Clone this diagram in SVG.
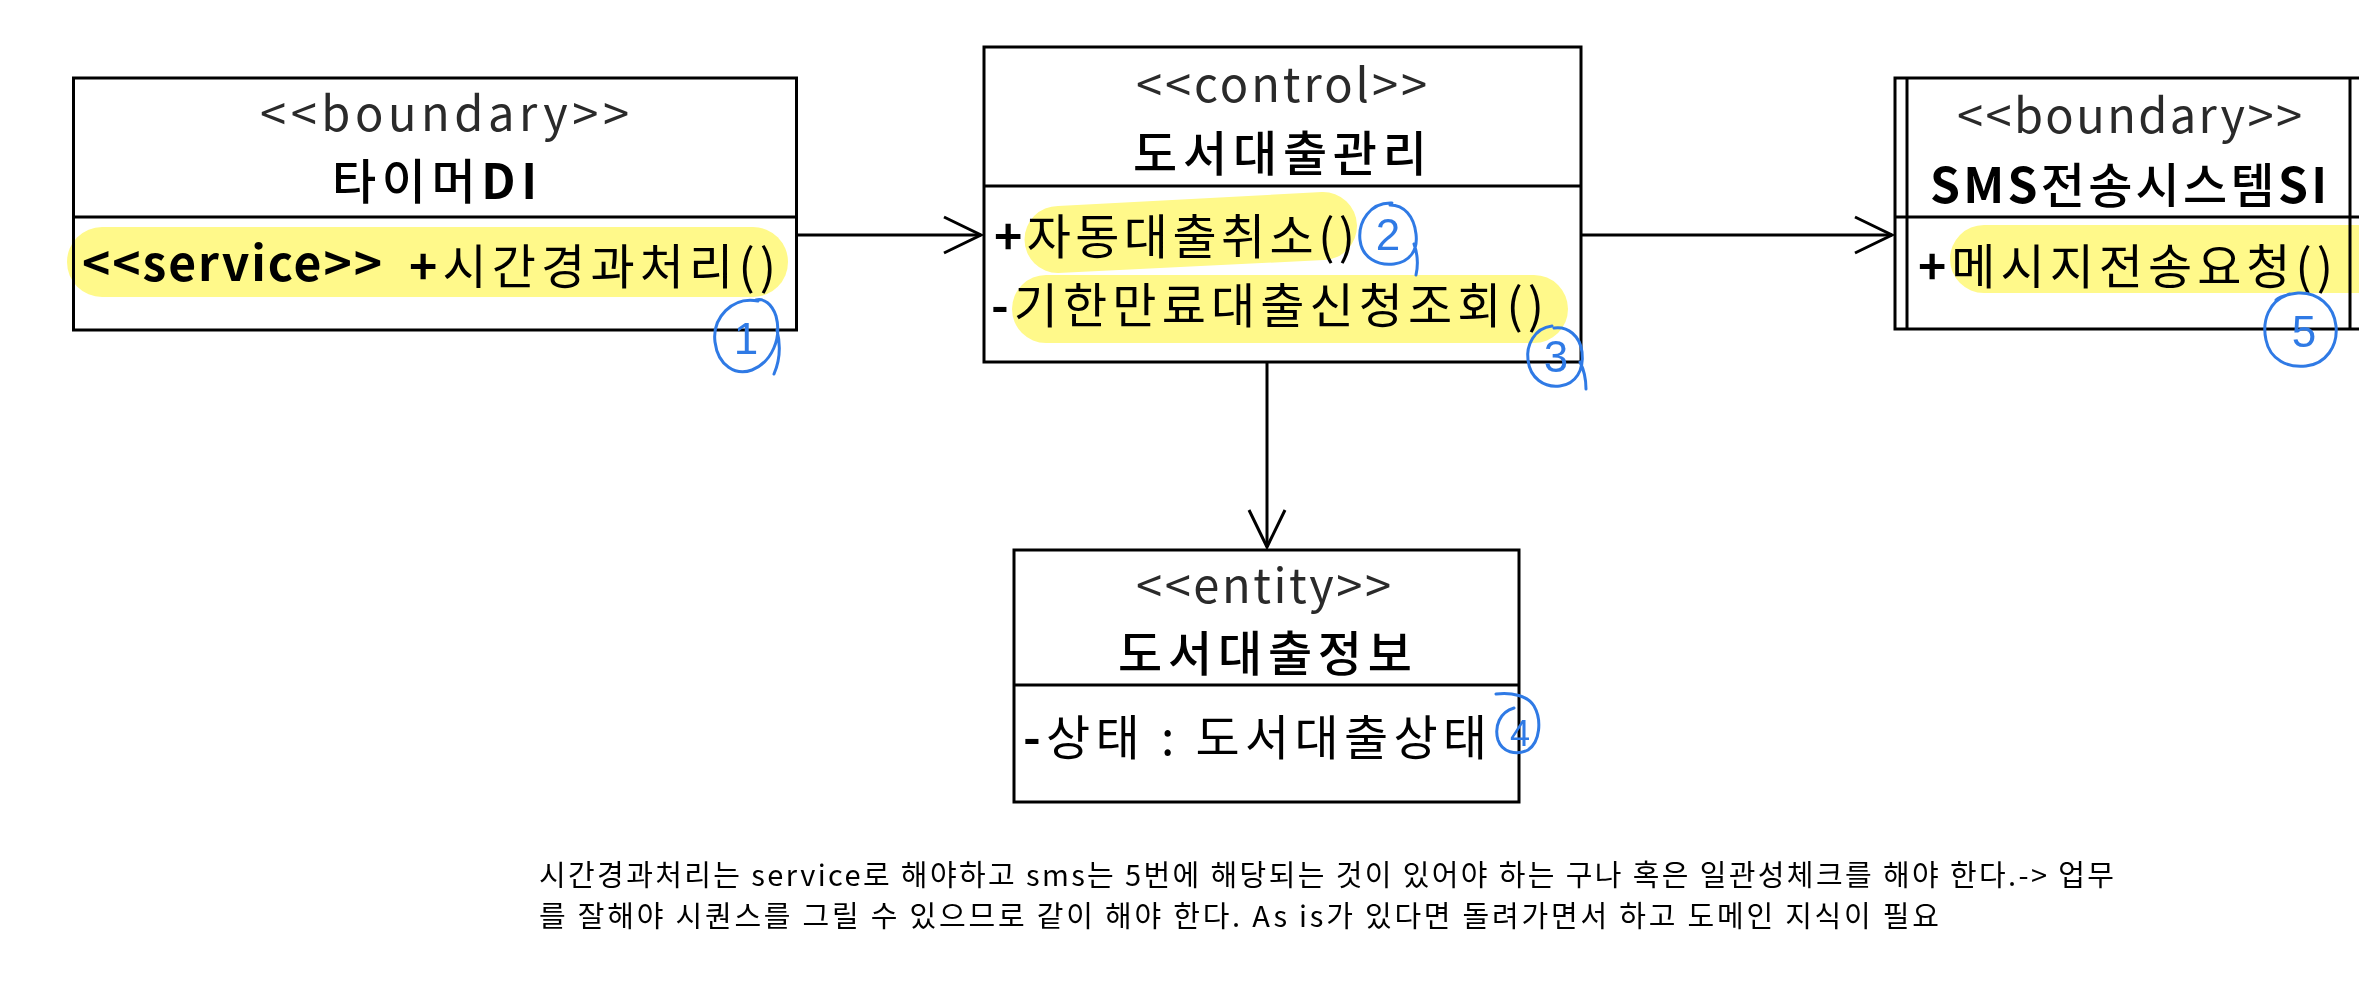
<svg xmlns="http://www.w3.org/2000/svg" width="2359" height="1000" viewBox="0 0 2359 1000">
<style>
text{font-family:"Noto Sans CJK KR","Noto Sans",sans-serif}
.box{fill:#fff;stroke:#000;stroke-width:3}
.ln{stroke:#000;stroke-width:3;fill:none}
.st{font-size:47px;fill:#2a2a2a}
.ti{font-size:48px;fill:#000;font-weight:500}
.mb{font-size:48px;fill:#000}
.b{font-weight:700}
.hl{fill:#fff98a;mix-blend-mode:multiply}
.pen{fill:none;stroke:#2f7ae5;stroke-width:3;stroke-linecap:round;stroke-linejoin:round}
.pn{font-family:"Liberation Sans",sans-serif;font-size:44px;fill:#2f7ae5;text-anchor:middle}
.note{font-size:29px;fill:#000}
</style>
<defs>
<marker id="open" markerUnits="userSpaceOnUse" markerWidth="46" markerHeight="46" viewBox="-42 -23 46 46" refX="0" refY="0" orient="auto">
<path d="M-37,-18 L0,0 L-37,18" fill="none" stroke="#000" stroke-width="3"/>
</marker>
</defs>

<g id="connectors">
<line class="ln" x1="796" y1="235" x2="981" y2="235" marker-end="url(#open)"/>
<line class="ln" x1="1581" y1="235" x2="1892" y2="235" marker-end="url(#open)"/>
<line class="ln" x1="1267" y1="362" x2="1267" y2="547" marker-end="url(#open)"/>
</g>

<g id="node-timer">
<rect class="box" x="73.5" y="78" width="723" height="252"/>
<line class="ln" x1="73.5" y1="217" x2="796.5" y2="217"/>
<text class="st" x="260" y="131" textLength="369" lengthAdjust="spacing">&lt;&lt;boundary&gt;&gt;</text>
<text class="ti" x="332" y="199" textLength="205" lengthAdjust="spacing">타이머<tspan class="b">DI</tspan></text>
<text class="mb b" x="82" y="281" textLength="300" lengthAdjust="spacing">&lt;&lt;service&gt;&gt;</text>
<text class="mb" x="409" y="284" textLength="367" lengthAdjust="spacing"><tspan class="b">+</tspan>시간경과처리()</text>
</g>

<g id="node-control">
<rect class="box" x="984" y="47" width="597" height="315"/>
<line class="ln" x1="984" y1="186" x2="1581" y2="186"/>
<text class="st" x="1136" y="102" textLength="291" lengthAdjust="spacing">&lt;&lt;control&gt;&gt;</text>
<text class="ti" x="1133" y="171" textLength="294" lengthAdjust="spacing">도서대출관리</text>
<text class="mb" x="994" y="254" textLength="361" lengthAdjust="spacing"><tspan class="b">+</tspan>자동대출취소()</text>
<text class="mb" x="991" y="323" textLength="553" lengthAdjust="spacing"><tspan class="b">-</tspan>기한만료대출신청조회()</text>
</g>

<g id="node-sms">
<rect class="box" x="1895" y="78" width="480" height="251"/>
<line class="ln" x1="1907" y1="78" x2="1907" y2="329"/>
<line class="ln" x1="2350" y1="78" x2="2350" y2="329"/>
<line class="ln" x1="1895" y1="217" x2="2359" y2="217"/>
<text class="st" x="1957" y="133" textLength="345" lengthAdjust="spacing">&lt;&lt;boundary&gt;&gt;</text>
<text class="ti" x="1930" y="203" textLength="397" lengthAdjust="spacing"><tspan class="b">SMS</tspan>전송시스템<tspan class="b">SI</tspan></text>
<text class="mb" x="1918" y="284" textLength="415" lengthAdjust="spacing"><tspan class="b">+</tspan>메시지전송요청()</text>
</g>

<g id="node-entity">
<rect class="box" x="1014" y="550" width="505" height="252"/>
<line class="ln" x1="1014" y1="685" x2="1519" y2="685"/>
<text class="st" x="1136" y="603" textLength="255" lengthAdjust="spacing">&lt;&lt;entity&gt;&gt;</text>
<text class="ti" x="1118" y="671" textLength="294" lengthAdjust="spacing">도서대출정보</text>
<text class="mb" x="1023" y="755" textLength="464" lengthAdjust="spacing"><tspan class="b">-</tspan>상태 : 도서대출상태</text>
</g>

<g id="highlights">
<rect class="hl" x="67" y="227" width="721" height="70" rx="35"/>
<path class="hl" d="M1058,206 L1322,192 A34,34 0 0 1 1324,260 L1058,273 A33.5,33.5 0 0 1 1058,206 Z"/>
<rect class="hl" x="1012" y="275" width="556" height="68" rx="34"/>
<rect class="hl" x="1950" y="225" width="450" height="68" rx="34"/>
</g>

<g id="annotations">
<path class="pen" d="M758,301 C732,296 712,318 715,342 C718,366 736,376 752,370 C772,362 782,338 776,316 C772,304 764,298 756,300 M777,330 C781,346 780,360 774,374"/>
<text class="pn" x="746" y="354">1</text>
<path class="pen" d="M1392,203 C1370,202 1358,222 1360,240 C1362,258 1378,266 1394,264 C1410,262 1418,250 1416,234 C1414,216 1404,205 1390,205 M1414,244 C1418,255 1418,266 1416,275"/>
<text class="pn" x="1388" y="250">2</text>
<path class="pen" d="M1552,326 C1534,328 1526,346 1528,360 C1530,378 1544,388 1560,386 C1576,384 1584,370 1582,352 C1580,336 1568,326 1554,328 M1580,362 C1585,372 1586,382 1586,389"/>
<text class="pn" x="1556" y="372">3</text>
<path class="pen" d="M1496,694 C1512,692 1528,696 1534,706 C1542,720 1540,742 1528,750 C1516,756 1502,752 1498,740 C1494,726 1500,712 1514,708"/>
<text class="pn" x="1520" y="746" style="font-size:36px">4</text>
<path class="pen" d="M2290,294 C2268,300 2262,322 2266,340 C2270,360 2288,368 2306,366 C2326,364 2338,346 2336,326 C2334,306 2318,292 2298,293 C2290,294 2280,296 2276,300"/>
<text class="pn" x="2304" y="347">5</text>
</g>

<g id="note">
<text class="note" x="539" y="886" textLength="1575" lengthAdjust="spacing">시간경과처리는 service로 해야하고 sms는 5번에 해당되는 것이 있어야 하는 구나 혹은 일관성체크를 해야 한다.-&gt; 업무</text>
<text class="note" x="539" y="927" textLength="1400" lengthAdjust="spacing">를 잘해야 시퀀스를 그릴 수 있으므로 같이 해야 한다. As is가 있다면 돌려가면서 하고 도메인 지식이 필요</text>
</g>
</svg>
